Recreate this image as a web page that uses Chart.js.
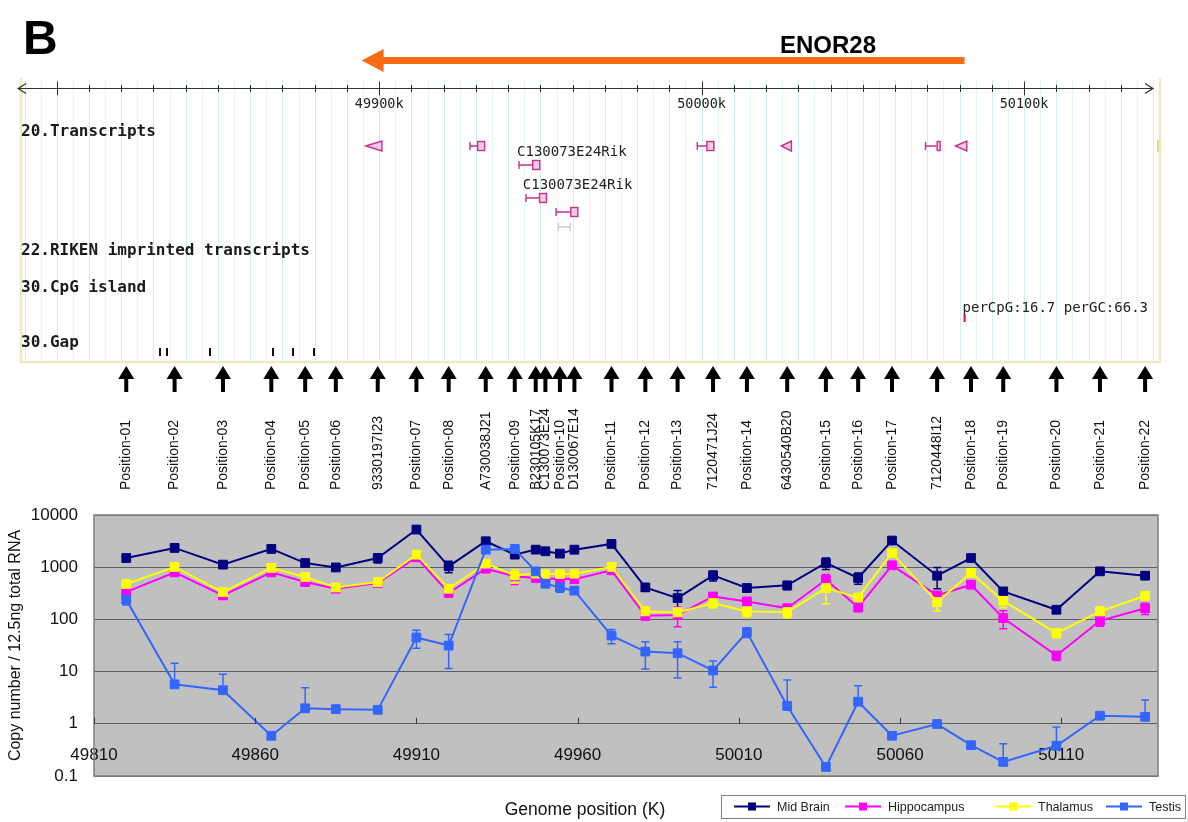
<!DOCTYPE html>
<html>
<head>
<meta charset="utf-8">
<title>ENOR28 region expression</title>
<script src="https://cdn.jsdelivr.net/npm/chart.js@4.4.1/dist/chart.umd.min.js"></script>
<style>
  html, body { margin: 0; padding: 0; background: #ffffff; }
  #frame { width: 1188px; height: 822px; }
  canvas { display: block; }
</style>
</head>
<body>
<div id="frame"><canvas id="chart" width="1188" height="822"></canvas></div>
<script>
// ---- probe positions along the chromosome (K) and their names ----
const probePositions = [49820, 49835, 49850, 49865, 49875.5, 49885, 49898, 49910, 49920, 49931.5,
  49940.5, 49947, 49950, 49954.5, 49959, 49970.5, 49981, 49991, 50002, 50012.5,
  50025, 50037, 50047, 50057.5, 50071.5, 50082, 50092, 50108.5, 50122, 50136];
const probeNames = ['Position-01', 'Position-02', 'Position-03', 'Position-04', 'Position-05', 'Position-06',
  '9330197I23', 'Position-07', 'Position-08', 'A730038J21', 'Position-09', 'B230105K17', 'C130073E24',
  'Position-10', 'D130067E14', 'Position-11', 'Position-12', 'Position-13', '7120471J24', 'Position-14',
  '6430540B20', 'Position-15', 'Position-16', 'Position-17', '7120448I12', 'Position-18', 'Position-19',
  'Position-20', 'Position-21', 'Position-22'];

// ---- copy number / 12.5 ng total RNA (mean) ----
const midBrain = [1500, 2340, 1120, 2240, 1200, 990, 1500, 5260, 1040, 3140,
  1740, 2170, 2020, 1820, 2170, 2790, 410, 256, 697, 399,
  449, 1207, 621, 3240, 688, 1500, 344, 153, 833, 688];
const hippocampus = [334, 797, 288, 797, 520, 387, 498, 1550, 320, 937,
  668, 621, 600, 610, 590, 871, 117, 122, 275, 221,
  164, 575, 170, 1087, 288, 462, 106, 20.3, 94, 164];
const thalamus = [477, 1010, 334, 968, 650, 410, 520, 1740, 387, 1170,
  698, 751, 740, 740, 751, 1010, 142, 136, 206, 142,
  138, 399, 263, 1876, 215, 777, 227, 54.6, 142, 284];
const testis = [238, 5.7, 4.4, 0.59, 1.98, 1.91, 1.85, 45, 31.5, 2170,
  2240, 832, 483, 410, 355, 49, 24.2, 22.5, 10.5, 57,
  2.19, 0.149, 2.65, 0.59, 0.99, 0.39, 0.186, 0.38, 1.43, 1.36];

// ---- standard deviations ----
const midBrainSd = [150, 250, 150, 250, 150, 150, 300, 600, 260, 400,
  200, 200, 150, 250, 350, 300, 60, 100, 150, 60,
  80, 300, 150, 400, 300, 200, 40, 20, 100, 80];
const hippocampusSd = [40, 80, 40, 80, 60, 40, 60, 150, 40, 100,
  200, 80, 60, 60, 60, 80, 20, 50, 40, 30,
  30, 150, 30, 120, 50, 60, 40, 4, 20, 40];
const thalamusSd = [50, 100, 40, 100, 80, 50, 60, 200, 50, 120,
  200, 80, 80, 80, 80, 100, 30, 30, 40, 30,
  30, 200, 40, 200, 70, 100, 60, 10, 30, 50];
const testisSd = [50, 8.8, 4.5, 0.05, 2.9, 0.1, 0.1, 17, 20, 300,
  300, 100, 60, 80, 40, 15, 13, 15, 5.5, 12,
  4.7, 0.01, 2.7, 0.05, 0.05, 0.03, 0.23, 0.49, 0.1, 1.5];

// ---- axes ----
const xTicks = [49810, 49860, 49910, 49960, 50010, 50060, 50110];
const yTicks = [0.1, 1, 10, 100, 1000, 10000];
const seriesNames = ['Mid Brain', 'Hippocampus', 'Thalamus', 'Testis'];

// ---- genome browser annotations (K) ----
const enorStart = 50080, enorEnd = 49893;          // ENOR28, minus strand
const rulerStart = 49788, rulerEnd = 50140;
const rulerLabels = [49900, 50000, 50100];
const transcriptStart = [49894.3, 49926.6, 49997.1, 50023.2, 50067.9, 50077.2, 50139.6, 49941.8, 49944.0, 49953.3, 49954.0];
const transcriptEnd   = [49899.3, 49931.3, 50002.4, 50026.3, 50072.6, 50080.7, 50140.0, 49948.4, 49950.5, 49960.2, 49957.7];
const transcriptRow   = [0, 0, 0, 0, 0, 0, 0, 1, 2, 3, 4];
const transcriptShape = ['tri', 'exon', 'exon', 'tri', 'thin', 'tri', 'tick', 'exon', 'exon', 'exon', 'faint'];
const transcriptLabels = ['C130073E24Rik', 'C130073E24Rik'];
const transcriptLabelAt = [49941.2, 49943.0];
const transcriptLabelRow = [1, 2];
const gapMarks = [49830.3, 49832.2, 49845.6, 49865.2, 49871.4, 49877.9];
const cpgIsland = 50079.7;
const cpgText = 'perCpG:16.7 perGC:66.3';
const trackNames = ['20.Transcripts', '22.RIKEN imprinted transcripts', '30.CpG island', '30.Gap'];

// ---- styling ----
const SANS = '"Liberation Sans", Arial, Helvetica, sans-serif';
const MONO = '"DejaVu Sans Mono", "Liberation Mono", monospace';
const seriesColors = ['#000080', '#ff00ff', '#ffff00', '#3366ff'];
const seriesValues = [midBrain, hippocampus, thalamus, testis];
const seriesErrors = [midBrainSd, hippocampusSd, thalamusSd, testisSd];
const GLYPH = '#c2348c', GLYPH_FILL = '#f5c9e3';

const datasets = seriesValues.map((vals, s) => ({
  label: seriesNames[s],
  data: probePositions.map((k, i) => ({ x: k, y: vals[i] })),
  borderColor: seriesColors[s],
  backgroundColor: seriesColors[s],
  pointBackgroundColor: seriesColors[s],
  pointBorderColor: seriesColors[s],
  borderWidth: 2,
  pointStyle: 'rect',
  pointRadius: 6.2,
  pointBorderWidth: 1,
  tension: 0,
  order: 3 - s   // later series sit on top
}));

// grey plot area, frame and small upward x ticks on the value-1 axis line
const plotFrame = {
  id: 'plotFrame',
  beforeDraw(chart) {
    const { ctx, chartArea: a } = chart;
    ctx.save();
    ctx.fillStyle = '#ffffff';
    ctx.fillRect(0, 0, chart.width, chart.height);
    ctx.fillStyle = '#c0c0c0';
    ctx.fillRect(a.left, a.top, a.right - a.left, a.bottom - a.top);
    ctx.restore();
  },
  afterDraw(chart) {
    const { ctx, chartArea: a } = chart;
    const xs = chart.scales.x, ys = chart.scales.y;
    ctx.save();
    ctx.strokeStyle = '#808080';
    ctx.lineWidth = 1.5;
    ctx.strokeRect(a.left, a.top, a.right - a.left, a.bottom - a.top);
    const y1 = ys.getPixelForValue(1);
    ctx.strokeStyle = '#3a3a3a';
    ctx.lineWidth = 1;
    xTicks.forEach(v => {
      const x = Math.round(xs.getPixelForValue(v)) + 0.5;
      ctx.beginPath();
      ctx.moveTo(x, y1);
      ctx.lineTo(x, y1 - 6);
      ctx.stroke();
    });
    ctx.restore();
  }
};

// mean +/- SD bars (lower half omitted when it would fall below zero)
const errorBars = {
  id: 'errorBars',
  beforeDatasetsDraw(chart) {
    const { ctx, chartArea: a } = chart;
    const xs = chart.scales.x, ys = chart.scales.y;
    ctx.save();
    ctx.beginPath();
    ctx.rect(a.left, a.top, a.right - a.left, a.bottom - a.top);
    ctx.clip();
    ctx.lineWidth = 1.5;
    seriesValues.forEach((vals, s) => {
      const sd = seriesErrors[s];
      ctx.strokeStyle = seriesColors[s];
      vals.forEach((v, i) => {
        const x = xs.getPixelForValue(probePositions[i]);
        const yTop = ys.getPixelForValue(v + sd[i]);
        const lo = v - sd[i];
        const yBot = lo > 0 ? ys.getPixelForValue(lo) : ys.getPixelForValue(v);
        ctx.beginPath();
        ctx.moveTo(x, yTop); ctx.lineTo(x, yBot);
        ctx.moveTo(x - 4, yTop); ctx.lineTo(x + 4, yTop);
        if (lo > 0) { ctx.moveTo(x - 4, yBot); ctx.lineTo(x + 4, yBot); }
        ctx.stroke();
      });
    });
    ctx.restore();
  }
};

// x-axis caption and boxed legend with line + marker samples
const footer = {
  id: 'footer',
  afterDraw(chart) {
    const { ctx } = chart;
    ctx.save();
    ctx.fillStyle = '#111';
    ctx.font = '17.5px ' + SANS;
    ctx.textAlign = 'center';
    ctx.textBaseline = 'alphabetic';
    ctx.fillText('Genome position (K)', 585, 815);

    const lx = 721, ly = 795, lw = 464, lh = 23, cy = ly + lh / 2;
    ctx.fillStyle = '#ffffff';
    ctx.fillRect(lx, ly, lw, lh);
    ctx.strokeStyle = '#808080';
    ctx.lineWidth = 1;
    ctx.strokeRect(lx + 0.5, ly + 0.5, lw, lh);
    const sampleStarts = [734, 845, 995, 1106];
    ctx.font = '12.5px ' + SANS;
    ctx.textAlign = 'left';
    ctx.textBaseline = 'middle';
    seriesNames.forEach((name, s) => {
      const x0 = sampleStarts[s], x1 = x0 + 36;
      ctx.strokeStyle = seriesColors[s];
      ctx.lineWidth = 2;
      ctx.beginPath(); ctx.moveTo(x0, cy); ctx.lineTo(x1, cy); ctx.stroke();
      ctx.fillStyle = seriesColors[s];
      ctx.fillRect((x0 + x1) / 2 - 4, cy - 4, 8, 8);
      ctx.fillStyle = '#222';
      ctx.fillText(name, x1 + 7, cy + 1);
    });
    ctx.restore();
  }
};

// genome browser panel above the plot, aligned with the same x scale
const browser = {
  id: 'browser',
  afterDraw(chart) {
    const { ctx } = chart;
    const xs = chart.scales.x;
    const px = k => xs.getPixelForValue(k);
    const rulerShift = -5;
    const rx = k => px(k) + rulerShift;
    ctx.save();

    // panel letter
    ctx.fillStyle = '#000';
    ctx.font = 'bold 48px ' + SANS;
    ctx.textAlign = 'left';
    ctx.textBaseline = 'alphabetic';
    ctx.fillText('B', 23, 54);

    // faint guide stripes
    for (let k = 49790; k <= 50140; k += 5) {
      const x = Math.round(rx(k)) + 0.5;
      ctx.strokeStyle = (k % 10 === 0) ? 'rgba(170,225,232,0.55)' : 'rgba(205,238,242,0.5)';
      ctx.lineWidth = 1;
      ctx.beginPath(); ctx.moveTo(x, 80); ctx.lineTo(x, 360); ctx.stroke();
    }
    // panel border
    ctx.strokeStyle = '#f1e9bf';
    ctx.lineWidth = 2.5;
    ctx.beginPath();
    ctx.moveTo(21, 78); ctx.lineTo(21, 362); ctx.lineTo(1160, 362); ctx.lineTo(1160, 78);
    ctx.stroke();

    // ENOR28 arrow
    const xa = px(enorEnd), xb = px(enorStart);
    ctx.fillStyle = '#f96a16';
    ctx.fillRect(xa + 20, 57, xb - xa - 20, 7);
    ctx.beginPath();
    ctx.moveTo(xa, 60.5); ctx.lineTo(xa + 22, 49); ctx.lineTo(xa + 22, 72); ctx.closePath();
    ctx.fill();
    ctx.fillStyle = '#000';
    ctx.font = 'bold 24px ' + SANS;
    ctx.textAlign = 'center';
    ctx.fillText('ENOR28', 828, 53);

    // coordinate ruler
    const y0 = 88.5, xl = rx(rulerStart), xr = rx(rulerEnd);
    ctx.strokeStyle = '#333';
    ctx.lineWidth = 1.2;
    ctx.beginPath();
    ctx.moveTo(xl, y0); ctx.lineTo(xr, y0);
    ctx.moveTo(xl + 8, y0 - 5); ctx.lineTo(xl, y0); ctx.lineTo(xl + 8, y0 + 5);
    ctx.moveTo(xr - 8, y0 - 5); ctx.lineTo(xr, y0); ctx.lineTo(xr - 8, y0 + 5);
    ctx.stroke();
    ctx.lineWidth = 1;
    for (let k = 49800; k < rulerEnd; k += 10) {
      const x = Math.round(rx(k)) + 0.5;
      const major = k % 100 === 0;
      ctx.beginPath();
      ctx.moveTo(x, major ? y0 - 7 : y0 - 3.5);
      ctx.lineTo(x, major ? y0 + 7 : y0 + 3.5);
      ctx.stroke();
    }
    ctx.fillStyle = '#222';
    ctx.font = '13.5px ' + MONO;
    ctx.textAlign = 'center';
    rulerLabels.forEach(k => ctx.fillText(k + 'k', rx(k), 108));

    // track names
    ctx.fillStyle = '#1a1a1a';
    ctx.font = 'bold 16px ' + MONO;
    ctx.textAlign = 'left';
    const trackY = [136, 255, 292, 347];
    trackNames.forEach((t, i) => ctx.fillText(t, 21, trackY[i]));

    // transcripts
    const rowY = [146, 165, 198, 212, 227];
    ctx.font = '14px ' + MONO;
    ctx.fillStyle = '#222';
    transcriptLabels.forEach((t, i) => ctx.fillText(t, px(transcriptLabelAt[i]), rowY[transcriptLabelRow[i]] - 9));
    transcriptShape.forEach((shape, i) => {
      const x0 = px(transcriptStart[i]), x1 = px(transcriptEnd[i]), y = rowY[transcriptRow[i]];
      ctx.lineWidth = 1.4;
      if (shape === 'tri') {
        ctx.beginPath();
        ctx.moveTo(x0, y); ctx.lineTo(x1, y - 5); ctx.lineTo(x1, y + 5); ctx.closePath();
        ctx.fillStyle = GLYPH_FILL; ctx.fill();
        ctx.strokeStyle = GLYPH; ctx.stroke();
      } else if (shape === 'tick') {
        ctx.strokeStyle = '#e9bf55';
        ctx.beginPath(); ctx.moveTo(x1, y - 6); ctx.lineTo(x1, y + 6); ctx.stroke();
      } else {
        const faint = shape === 'faint';
        const bw = shape === 'thin' ? 4 : (faint ? 0 : 8);
        ctx.strokeStyle = faint ? '#d9c9d3' : GLYPH;
        ctx.beginPath();
        ctx.moveTo(x0, y - 4); ctx.lineTo(x0, y + 4);
        ctx.moveTo(x0, y); ctx.lineTo(x1 - bw, y);
        if (faint) { ctx.moveTo(x1, y - 4); ctx.lineTo(x1, y + 4); }
        ctx.stroke();
        if (bw > 0) {
          ctx.fillStyle = GLYPH_FILL;
          ctx.fillRect(x1 - bw, y - 5, bw, 10);
          ctx.strokeRect(x1 - bw + 0.5, y - 4.5, bw - 1, 9);
        }
      }
    });

    // CpG island
    ctx.fillStyle = '#222';
    ctx.font = '14px ' + MONO;
    ctx.fillText(cpgText, px(cpgIsland) - 1, 312);
    ctx.fillStyle = '#d0103a';
    ctx.fillRect(px(cpgIsland), 314, 2, 8);

    // gaps
    ctx.fillStyle = '#111';
    gapMarks.forEach(k => ctx.fillRect(Math.round(px(k)), 348, 2, 8));

    // probe arrows and names
    probePositions.forEach((k, i) => {
      const x = px(k);
      ctx.fillStyle = '#000';
      ctx.beginPath();
      ctx.moveTo(x - 8, 379); ctx.lineTo(x, 366); ctx.lineTo(x + 8, 379); ctx.closePath();
      ctx.fill();
      ctx.fillRect(x - 2, 378, 4, 14);
      ctx.save();
      ctx.translate(x, 490);
      ctx.rotate(-Math.PI / 2);
      ctx.font = '14px ' + SANS;
      ctx.textAlign = 'left';
      ctx.textBaseline = 'middle';
      ctx.fillStyle = '#111';
      ctx.fillText(probeNames[i], 0, 0);
      ctx.restore();
    });
    ctx.restore();
  }
};

new Chart(document.getElementById('chart'), {
  type: 'line',
  data: { datasets },
  options: {
    responsive: false,
    animation: false,
    devicePixelRatio: 1,
    layout: { padding: { left: 0, right: 30, top: 515, bottom: 46 } },
    plugins: { legend: { display: false }, tooltip: { enabled: false } },
    scales: {
      x: {
        type: 'linear',
        min: 49810,
        max: 50140,
        position: { y: 1 },
        grid: { display: false },
        border: { display: false },
        ticks: {
          autoSkip: false,
          maxRotation: 0,
          padding: 13,
          color: '#111',
          font: { family: SANS, size: 17 },
          callback: v => String(v)
        },
        afterBuildTicks: s => { s.ticks = xTicks.map(v => ({ value: v })); }
      },
      y: {
        type: 'logarithmic',
        min: 0.1,
        max: 10000,
        grid: { color: '#5f5f5f', lineWidth: 1, drawTicks: false },
        border: { display: false },
        ticks: {
          padding: 16,
          color: '#111',
          font: { family: SANS, size: 17 },
          callback: v => String(v)
        },
        title: {
          display: true,
          text: 'Copy number / 12.5ng total RNA',
          color: '#111',
          font: { family: SANS, size: 16 },
          padding: { top: 6, bottom: 0 }
        },
        afterBuildTicks: s => { s.ticks = yTicks.map(v => ({ value: v })); },
        afterFit: s => { s.width = 94; }
      }
    }
  },
  plugins: [plotFrame, errorBars, footer, browser]
});
</script>
</body>
</html>
